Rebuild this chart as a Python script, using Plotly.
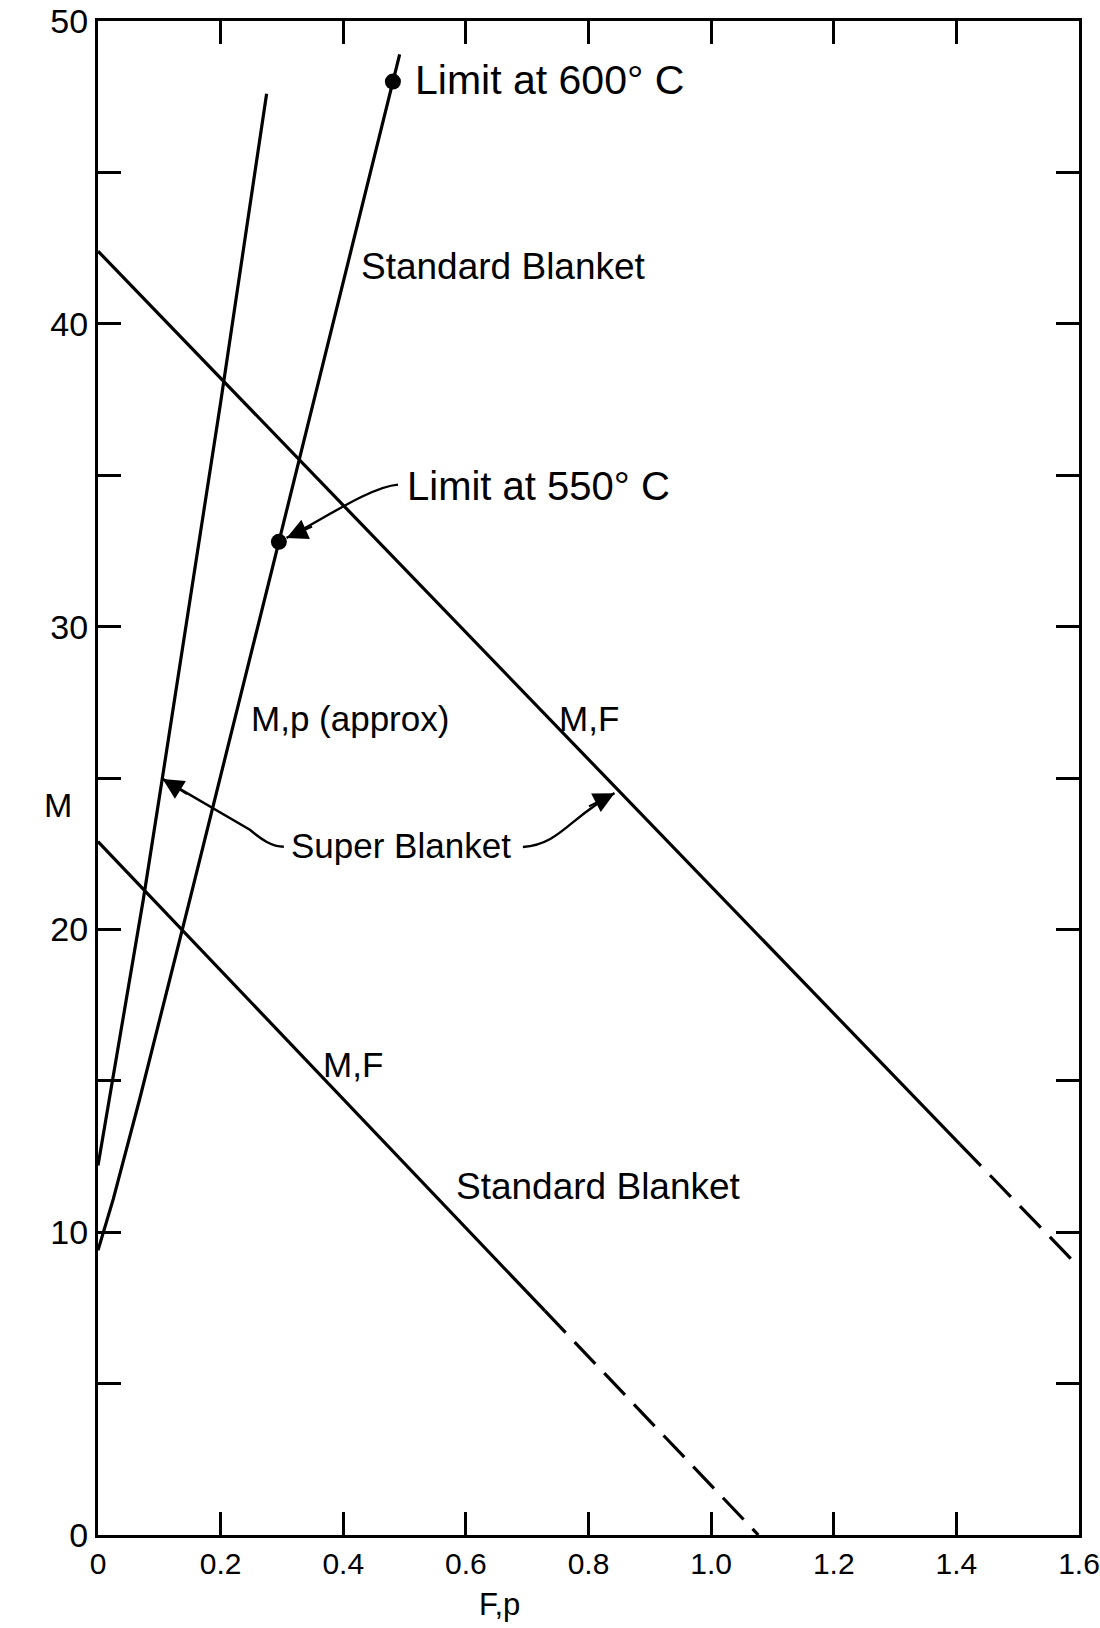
import plotly.graph_objects as go

# Super blanket, M vs p (left steep curve)
super_mp_p = [0.0, 0.074, 0.105, 0.2, 0.275]
super_mp_M = [12.2, 21.0, 25.0, 37.4, 47.6]

# M,p (approx) curve with temperature limits
mp_p = [0.0, 0.025, 0.068, 0.150, 0.295, 0.481, 0.492]
mp_M = [9.4, 11.1, 14.4, 21.0, 32.8, 48.0, 48.9]

# Limit points
limit_p = [0.295, 0.481]
limit_M = [32.8, 48.0]

# Super blanket M,F line: solid part then dashed extrapolation
super_mf_F = [0.0, 1.406]
super_mf_M = [42.4, 12.9]
super_mf_dash_F = [1.406, 1.6]
super_mf_dash_M = [12.9, 8.85]

# Standard blanket M,F line: solid part then dashed extrapolation
std_mf_F = [0.0, 0.729]
std_mf_M = [22.9, 7.4]
std_mf_dash_F = [0.729, 1.077]
std_mf_dash_M = [7.4, 0.0]

x_ticks = [0, 0.2, 0.4, 0.6, 0.8, 1.0, 1.2, 1.4, 1.6]
x_ticktext = ["0", "0.2", "0.4", "0.6", "0.8", "1.0", "1.2", "1.4", "1.6"]
y_ticks = [0, 5, 10, 15, 20, 25, 30, 35, 40, 45, 50]
y_ticktext = ["0", "", "10", "", "20", "", "30", "", "40", "", "50"]

FONT = "Liberation Sans, Arial, sans-serif"
LW = 3.2

fig = go.Figure()

def add_line(x, y, dash="solid"):
    fig.add_trace(go.Scatter(x=x, y=y, mode="lines",
                             line=dict(color="black", width=LW, dash=dash),
                             showlegend=False, hoverinfo="skip"))

add_line(super_mp_p, super_mp_M)
add_line(mp_p, mp_M)
add_line(super_mf_F, super_mf_M)
add_line(super_mf_dash_F, super_mf_dash_M, dash="30px,13px")
add_line(std_mf_F, std_mf_M)
add_line(std_mf_dash_F, std_mf_dash_M, dash="30px,13px")

fig.add_trace(go.Scatter(x=limit_p, y=limit_M, mode="markers",
                         marker=dict(color="black", size=16),
                         showlegend=False, hoverinfo="skip", cliponaxis=False))

def label(text, x, y, size=35, anchor="left"):
    fig.add_annotation(x=x, y=y, xref="x", yref="y", text=text, showarrow=False,
                       xanchor=anchor, yanchor="middle",
                       font=dict(family=FONT, size=size, color="black"))

label("Limit at 600° C", 0.513, 48.05, size=41)
label("Limit at 550° C", 0.500, 34.66, size=40)
label("Standard Blanket", 0.425, 41.9, size=37)
label("M,p (approx)", 0.247, 26.97)
label("M,F", 0.748, 26.97)
label("Super Blanket", 0.311, 22.77)
label("M,F", 0.364, 15.53)
label("Standard Blanket", 0.580, 11.5, size=37)

# curved leader lines
leaders = [
    "M 0.3031,22.73 C 0.2835,22.73 0.2672,22.96 0.2477,23.29 L 0.1054,24.97",
    "M 0.6930,22.72 C 0.7527,22.80 0.7690,23.69 0.8424,24.50",
    "M 0.4893,34.69 C 0.4432,34.62 0.3617,33.47 0.3075,32.93",
]
for p in leaders:
    fig.add_shape(type="path", path=p, xref="x", yref="y",
                  line=dict(color="black", width=2.4))

# arrowheads at the ends of the leaders
heads = [(0.1054, 24.97, 26, 16), (0.8424, 24.50, -27, 14), (0.3075, 32.93, 27, -12)]
for hx, hy, ax, ay in heads:
    fig.add_annotation(x=hx, y=hy, xref="x", yref="y", ax=ax, ay=ay, text="",
                       showarrow=True, arrowhead=2, arrowsize=1.9, arrowwidth=2.2,
                       arrowcolor="black")

# axis titles
fig.add_annotation(x=-0.041, y=24.1, xref="paper", yref="y", text="M", showarrow=False,
                   xanchor="center", yanchor="middle",
                   font=dict(family=FONT, size=34, color="black"))
fig.add_annotation(x=0.409, y=-0.046, xref="paper", yref="paper", text="F,p", showarrow=False,
                   xanchor="center", yanchor="middle",
                   font=dict(family=FONT, size=31, color="black"))

axis_common = dict(showgrid=False, zeroline=False, showline=True, linecolor="black",
                   linewidth=3, mirror="ticks", ticks="inside", ticklen=23,
                   tickwidth=2.5, tickcolor="black", automargin=False)

fig.update_xaxes(range=[0, 1.6], tickvals=x_ticks, ticktext=x_ticktext,
                 ticklabeloverflow="allow",
                 tickfont=dict(family=FONT, size=30, color="black"), **axis_common)
fig.update_yaxes(range=[0, 50], tickvals=y_ticks, ticktext=y_ticktext,
                 ticklabeloverflow="allow",
                 tickfont=dict(family=FONT, size=34, color="black"), **axis_common)

fig.update_layout(width=1100, height=1628,
                  margin=dict(l=98, r=21, t=21, b=93),
                  plot_bgcolor="white", paper_bgcolor="white")

fig.write_html("out.html")
